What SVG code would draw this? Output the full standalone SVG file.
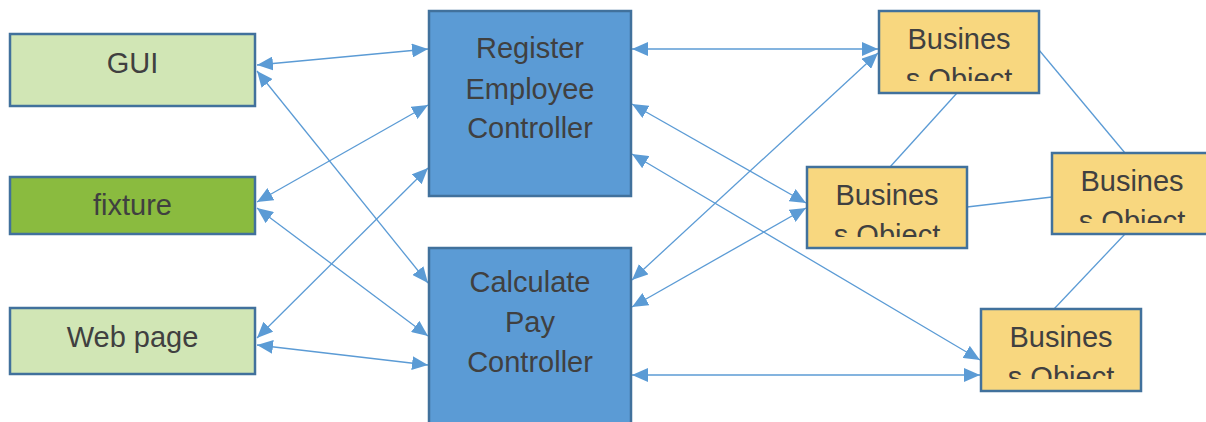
<svg xmlns="http://www.w3.org/2000/svg" width="1206" height="422" viewBox="0 0 1206 422">
  <style>
    .box { stroke: #41719C; stroke-width: 2.5; }
    .ui { fill: #D1E6B5; }
    .fix { fill: #8ABB3F; }
    .ctrl { fill: #5B9BD5; }
    .bo { fill: #F8D77F; }
    .lbl { font-family: "Liberation Sans", Arial, sans-serif; font-size: 29px; fill: #404040; text-anchor: middle; }
    .conn line { stroke: #5B9BD5; stroke-width: 1.3; fill: none; }
    .both { marker-start: url(#arrow); marker-end: url(#arrow); }
  </style>
  <defs>
    <!-- arrowhead sized in user units -->
    <marker id="arrow" markerUnits="userSpaceOnUse" markerWidth="17" markerHeight="14" refX="16" refY="7" orient="auto-start-reverse">
      <path d="M0,0 L16,7 L0,14 z" fill="#5B9BD5"/>
    </marker>
    <clipPath id="clip-bo1"><rect x="879" y="11" width="160" height="70"/></clipPath>
    <clipPath id="clip-bo2"><rect x="807" y="167" width="160" height="70"/></clipPath>
    <clipPath id="clip-bo3"><rect x="1052" y="153" width="160" height="70"/></clipPath>
    <clipPath id="clip-bo4"><rect x="981" y="309" width="160" height="70"/></clipPath>
  </defs>

  <!-- connectors -->
  <g id="connectors" class="conn">
    <line class="both" x1="257" y1="65" x2="428" y2="49"/>
    <line class="both" x1="257" y1="71" x2="428" y2="283"/>
    <line class="both" x1="257" y1="202" x2="428" y2="105"/>
    <line class="both" x1="257" y1="208" x2="428" y2="336"/>
    <line class="both" x1="257" y1="338" x2="428" y2="168"/>
    <line class="both" x1="257" y1="345" x2="428" y2="365"/>

    <line class="both" x1="632" y1="49" x2="878" y2="49"/>
    <line class="both" x1="632" y1="104" x2="806" y2="203"/>
    <line class="both" x1="632" y1="154" x2="980" y2="360"/>
    <line class="both" x1="632" y1="280" x2="878" y2="53"/>
    <line class="both" x1="632" y1="307" x2="806" y2="208"/>
    <line class="both" x1="632" y1="375" x2="980" y2="375"/>

    <line x1="957" y1="93" x2="890" y2="167"/>
    <line x1="1039" y1="50" x2="1125" y2="153"/>
    <line x1="967" y1="207" x2="1052" y2="197"/>
    <line x1="1125" y1="234" x2="1054" y2="309"/>
  </g>

  <!-- clients -->
  <g id="gui">
    <rect class="box ui" x="10" y="34" width="245" height="72"/>
    <text class="lbl" x="132.5" y="73">GUI</text>
  </g>
  <g id="fixture">
    <rect class="box fix" x="10" y="177" width="245" height="57"/>
    <text class="lbl" x="132.5" y="215">fixture</text>
  </g>
  <g id="webpage">
    <rect class="box ui" x="10" y="308" width="245" height="66"/>
    <text class="lbl" x="132.5" y="347">Web page</text>
  </g>

  <!-- controllers -->
  <g id="register-controller">
    <rect class="box ctrl" x="429" y="11" width="202" height="185"/>
    <text class="lbl" x="530" y="58">Register</text>
    <text class="lbl" x="530" y="99">Employee</text>
    <text class="lbl" x="530" y="138">Controller</text>
  </g>
  <g id="calculate-controller">
    <rect class="box ctrl" x="429" y="248" width="202" height="190"/>
    <text class="lbl" x="530" y="292">Calculate</text>
    <text class="lbl" x="530" y="332">Pay</text>
    <text class="lbl" x="530" y="372">Controller</text>
  </g>

  <!-- business objects -->
  <g id="bo1">
    <rect class="box bo" x="879" y="11" width="160" height="82"/>
    <g clip-path="url(#clip-bo1)">
      <text class="lbl" x="959" y="49">Busines</text>
      <text class="lbl" x="959" y="89">s Object</text>
    </g>
  </g>
  <g id="bo2">
    <rect class="box bo" x="807" y="167" width="160" height="81"/>
    <g clip-path="url(#clip-bo2)">
      <text class="lbl" x="887" y="205">Busines</text>
      <text class="lbl" x="887" y="245">s Object</text>
    </g>
  </g>
  <g id="bo3">
    <rect class="box bo" x="1052" y="153" width="160" height="81"/>
    <g clip-path="url(#clip-bo3)">
      <text class="lbl" x="1132" y="191">Busines</text>
      <text class="lbl" x="1132" y="231">s Object</text>
    </g>
  </g>
  <g id="bo4">
    <rect class="box bo" x="981" y="309" width="160" height="82"/>
    <g clip-path="url(#clip-bo4)">
      <text class="lbl" x="1061" y="347">Busines</text>
      <text class="lbl" x="1061" y="387">s Object</text>
    </g>
  </g>
</svg>
